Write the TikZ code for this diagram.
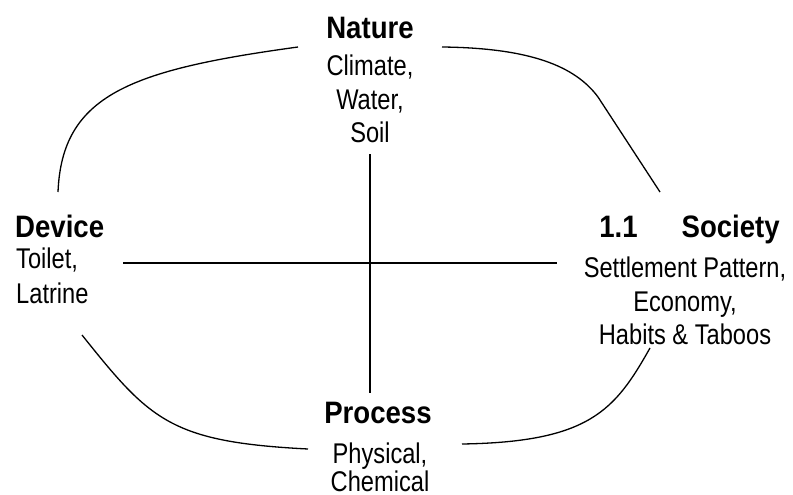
\documentclass[tikz,border=0pt]{standalone}
\usepackage{fontspec}
\setmainfont[FakeStretch=0.83]{Liberation Sans}
\newfontfamily\headfont[FakeStretch=0.89]{Liberation Sans}
\usetikzlibrary{positioning}

\begin{document}
\begin{tikzpicture}[x=1pt, y=-1pt,
    head/.style={font=\headfont\fontsize{31}{36}\selectfont\bfseries, inner sep=0pt, anchor=base},
    sub/.style={font=\fontsize{28.5}{33.5}\selectfont, inner sep=0pt, align=center, anchor=north},
    link/.style={line width=1.3pt, black}
]
    \useasboundingbox (0,0) rectangle (793,495);

    % === Four headings with their keywords ===
    \node[head] (nature) at (370,39) {Nature};
    \node[sub] (natureTxt) at (370,55) {Climate,\\Water,\\Soil};

    \node[head, anchor=base west] (device) at (15,237) {Device};
    \node[sub, align=left, anchor=north west, font=\fontsize{28.5}{35}\selectfont] (deviceTxt) at (16,248) {Toilet,\\Latrine};

    \node[head, anchor=base east] (society) at (780,237) {1.1\hspace{44pt}Society};
    \node[sub] (societyTxt) at (685,257) {Settlement Pattern,\\Economy,\\Habits \& Taboos};

    \node[head] (process) at (378,423) {Process};
    \node[sub, font=\fontsize{28.5}{28}\selectfont] (processTxt) at (380,443) {Physical,\\Chemical};

    % free ends of the connectors
    \coordinate (hlA) at (123,263);
    \coordinate (hlB) at (557,263);
    \coordinate (vlA) at (370,154);
    \coordinate (vlB) at (370,393);
    \coordinate (dvUp) at (58,192);
    \coordinate (ntLeft) at (298,47);
    \coordinate (ntRight) at (442,47);
    \coordinate (scUp) at (660,192);
    \coordinate (dvDown) at (82,335);
    \coordinate (prLeft) at (308,449);
    \coordinate (prRight) at (462,444);
    \coordinate (scDown) at (650,348);

    % === Cross ===
    \draw[link] (hlA) -- (hlB);
    \draw[link] (vlA) -- (vlB);

    % === Curved ring ===
    \draw[link] (dvUp) .. controls (62,95) and (130,70) .. (ntLeft);
    \draw[link] (ntRight) .. controls (530,48) and (575,66) .. (598,97) -- (scUp);
    \draw[link] (dvDown) .. controls (150,420) and (170,442) .. (prLeft);
    \draw[link] (prRight) .. controls (590,442) and (615,410) .. (scDown);
\end{tikzpicture}
\end{document}
